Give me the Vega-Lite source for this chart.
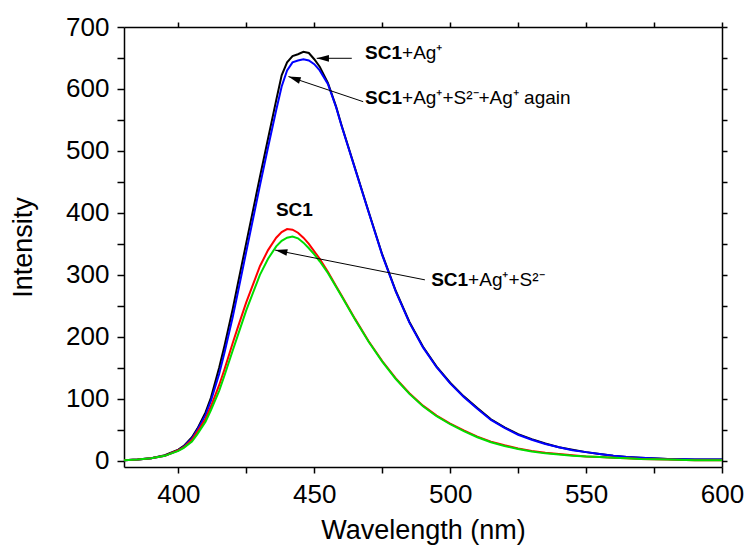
{
  "$schema": "https://vega.github.io/schema/vega-lite/v6.json",
  "width": 598,
  "height": 440,
  "autosize": {"type": "none"},
  "padding": {"left": 124, "top": 27, "right": 27, "bottom": 83},
  "background": "white",
  "config": {
    "view": {"stroke": null},
    "font": "Liberation Sans",
    "axis": {
      "domainColor": "black", "domainWidth": 1.5, "tickColor": "black", "tickWidth": 1.5,
      "labelColor": "black", "titleColor": "black", "labelFont": "Liberation Sans",
      "titleFont": "Liberation Sans", "labelFontSize": 26, "titleFontSize": 27,
      "titleFontWeight": "normal", "grid": false
    }
  },
  "datasets": {
    "spectra": [
      {"wl":380,"v":1,"s":"SC1+Ag+"},{"wl":385,"v":2,"s":"SC1+Ag+"},{"wl":390,"v":4,"s":"SC1+Ag+"},{"wl":395,"v":9,"s":"SC1+Ag+"},{"wl":400,"v":18,"s":"SC1+Ag+"},{"wl":405,"v":38,"s":"SC1+Ag+"},{"wl":410,"v":78,"s":"SC1+Ag+"},{"wl":415,"v":150,"s":"SC1+Ag+"},{"wl":420,"v":245,"s":"SC1+Ag+"},{"wl":425,"v":352,"s":"SC1+Ag+"},{"wl":430,"v":458,"s":"SC1+Ag+"},{"wl":433,"v":520,"s":"SC1+Ag+"},{"wl":436,"v":582,"s":"SC1+Ag+"},{"wl":438,"v":622,"s":"SC1+Ag+"},{"wl":440,"v":643,"s":"SC1+Ag+"},{"wl":442,"v":653,"s":"SC1+Ag+"},{"wl":444,"v":656,"s":"SC1+Ag+"},{"wl":446,"v":660,"s":"SC1+Ag+"},{"wl":448,"v":658,"s":"SC1+Ag+"},{"wl":450,"v":648,"s":"SC1+Ag+"},{"wl":452,"v":636,"s":"SC1+Ag+"},{"wl":455,"v":610,"s":"SC1+Ag+"},{"wl":458,"v":572,"s":"SC1+Ag+"},{"wl":460,"v":542,"s":"SC1+Ag+"},{"wl":465,"v":472,"s":"SC1+Ag+"},{"wl":470,"v":402,"s":"SC1+Ag+"},{"wl":475,"v":333,"s":"SC1+Ag+"},{"wl":480,"v":274,"s":"SC1+Ag+"},{"wl":485,"v":224,"s":"SC1+Ag+"},{"wl":490,"v":184,"s":"SC1+Ag+"},{"wl":495,"v":152,"s":"SC1+Ag+"},{"wl":500,"v":126,"s":"SC1+Ag+"},{"wl":505,"v":104,"s":"SC1+Ag+"},{"wl":510,"v":85,"s":"SC1+Ag+"},{"wl":515,"v":67,"s":"SC1+Ag+"},{"wl":520,"v":54,"s":"SC1+Ag+"},{"wl":525,"v":43,"s":"SC1+Ag+"},{"wl":530,"v":35,"s":"SC1+Ag+"},{"wl":535,"v":28,"s":"SC1+Ag+"},{"wl":540,"v":22,"s":"SC1+Ag+"},{"wl":545,"v":18,"s":"SC1+Ag+"},{"wl":550,"v":14,"s":"SC1+Ag+"},{"wl":555,"v":11,"s":"SC1+Ag+"},{"wl":560,"v":8,"s":"SC1+Ag+"},{"wl":565,"v":6,"s":"SC1+Ag+"},{"wl":570,"v":5,"s":"SC1+Ag+"},{"wl":580,"v":3,"s":"SC1+Ag+"},{"wl":590,"v":2,"s":"SC1+Ag+"},{"wl":600,"v":2,"s":"SC1+Ag+"},
      {"wl":402,"v":24,"s":"SC1+Ag+"},{"wl":407,"v":52,"s":"SC1+Ag+"},{"wl":412,"v":102,"s":"SC1+Ag+"},{"wl":417,"v":186,"s":"SC1+Ag+"},{"wl":422,"v":288,"s":"SC1+Ag+"},

      {"wl":380,"v":1,"s":"again"},{"wl":385,"v":2,"s":"again"},{"wl":390,"v":4,"s":"again"},{"wl":395,"v":8,"s":"again"},{"wl":400,"v":17,"s":"again"},{"wl":405,"v":36,"s":"again"},{"wl":410,"v":74,"s":"again"},{"wl":415,"v":140,"s":"again"},{"wl":420,"v":232,"s":"again"},{"wl":425,"v":338,"s":"again"},{"wl":430,"v":444,"s":"again"},{"wl":433,"v":506,"s":"again"},{"wl":436,"v":566,"s":"again"},{"wl":438,"v":604,"s":"again"},{"wl":440,"v":630,"s":"again"},{"wl":442,"v":643,"s":"again"},{"wl":444,"v":646,"s":"again"},{"wl":446,"v":648,"s":"again"},{"wl":448,"v":646,"s":"again"},{"wl":450,"v":640,"s":"again"},{"wl":452,"v":630,"s":"again"},{"wl":455,"v":608,"s":"again"},{"wl":458,"v":571,"s":"again"},{"wl":460,"v":541,"s":"again"},{"wl":465,"v":471,"s":"again"},{"wl":470,"v":401,"s":"again"},{"wl":475,"v":332,"s":"again"},{"wl":480,"v":273,"s":"again"},{"wl":485,"v":223,"s":"again"},{"wl":490,"v":183,"s":"again"},{"wl":495,"v":151,"s":"again"},{"wl":500,"v":125,"s":"again"},{"wl":505,"v":103,"s":"again"},{"wl":510,"v":84,"s":"again"},{"wl":515,"v":66,"s":"again"},{"wl":520,"v":53,"s":"again"},{"wl":525,"v":42,"s":"again"},{"wl":530,"v":34,"s":"again"},{"wl":535,"v":27,"s":"again"},{"wl":540,"v":22,"s":"again"},{"wl":545,"v":17,"s":"again"},{"wl":550,"v":14,"s":"again"},{"wl":555,"v":11,"s":"again"},{"wl":560,"v":8,"s":"again"},{"wl":565,"v":6,"s":"again"},{"wl":570,"v":5,"s":"again"},{"wl":580,"v":3,"s":"again"},{"wl":590,"v":2,"s":"again"},{"wl":600,"v":2,"s":"again"},
      {"wl":402,"v":23,"s":"again"},{"wl":407,"v":50,"s":"again"},{"wl":412,"v":97,"s":"again"},{"wl":417,"v":175,"s":"again"},{"wl":422,"v":274,"s":"again"},

      {"wl":380,"v":1,"s":"SC1"},{"wl":385,"v":2,"s":"SC1"},{"wl":390,"v":4,"s":"SC1"},{"wl":395,"v":8,"s":"SC1"},{"wl":400,"v":17,"s":"SC1"},{"wl":405,"v":34,"s":"SC1"},{"wl":410,"v":68,"s":"SC1"},{"wl":415,"v":122,"s":"SC1"},{"wl":420,"v":190,"s":"SC1"},{"wl":425,"v":256,"s":"SC1"},{"wl":430,"v":314,"s":"SC1"},{"wl":433,"v":340,"s":"SC1"},{"wl":436,"v":360,"s":"SC1"},{"wl":438,"v":369,"s":"SC1"},{"wl":440,"v":374,"s":"SC1"},{"wl":442,"v":373,"s":"SC1"},{"wl":444,"v":368,"s":"SC1"},{"wl":446,"v":360,"s":"SC1"},{"wl":448,"v":350,"s":"SC1"},{"wl":450,"v":338,"s":"SC1"},{"wl":452,"v":326,"s":"SC1"},{"wl":455,"v":305,"s":"SC1"},{"wl":458,"v":282,"s":"SC1"},{"wl":460,"v":267,"s":"SC1"},{"wl":465,"v":229,"s":"SC1"},{"wl":470,"v":193,"s":"SC1"},{"wl":475,"v":161,"s":"SC1"},{"wl":480,"v":133,"s":"SC1"},{"wl":485,"v":109,"s":"SC1"},{"wl":490,"v":89,"s":"SC1"},{"wl":495,"v":73,"s":"SC1"},{"wl":500,"v":60,"s":"SC1"},{"wl":505,"v":49,"s":"SC1"},{"wl":510,"v":39,"s":"SC1"},{"wl":515,"v":31,"s":"SC1"},{"wl":520,"v":25,"s":"SC1"},{"wl":525,"v":20,"s":"SC1"},{"wl":530,"v":16,"s":"SC1"},{"wl":535,"v":13,"s":"SC1"},{"wl":540,"v":11,"s":"SC1"},{"wl":545,"v":9,"s":"SC1"},{"wl":550,"v":7,"s":"SC1"},{"wl":555,"v":6,"s":"SC1"},{"wl":560,"v":5,"s":"SC1"},{"wl":565,"v":4,"s":"SC1"},{"wl":570,"v":3,"s":"SC1"},{"wl":580,"v":2,"s":"SC1"},{"wl":590,"v":1,"s":"SC1"},{"wl":600,"v":1,"s":"SC1"},
      {"wl":402,"v":22,"s":"SC1"},{"wl":407,"v":47,"s":"SC1"},{"wl":412,"v":88,"s":"SC1"},{"wl":417,"v":148,"s":"SC1"},{"wl":422,"v":217,"s":"SC1"},

      {"wl":380,"v":1,"s":"S2"},{"wl":385,"v":2,"s":"S2"},{"wl":390,"v":4,"s":"S2"},{"wl":395,"v":8,"s":"S2"},{"wl":400,"v":16,"s":"S2"},{"wl":405,"v":31,"s":"S2"},{"wl":410,"v":63,"s":"S2"},{"wl":415,"v":113,"s":"S2"},{"wl":420,"v":178,"s":"S2"},{"wl":425,"v":243,"s":"S2"},{"wl":430,"v":300,"s":"S2"},{"wl":433,"v":326,"s":"S2"},{"wl":436,"v":346,"s":"S2"},{"wl":438,"v":355,"s":"S2"},{"wl":440,"v":360,"s":"S2"},{"wl":442,"v":362,"s":"S2"},{"wl":444,"v":359,"s":"S2"},{"wl":446,"v":352,"s":"S2"},{"wl":448,"v":343,"s":"S2"},{"wl":450,"v":333,"s":"S2"},{"wl":452,"v":322,"s":"S2"},{"wl":455,"v":303,"s":"S2"},{"wl":458,"v":281,"s":"S2"},{"wl":460,"v":266,"s":"S2"},{"wl":465,"v":228,"s":"S2"},{"wl":470,"v":192,"s":"S2"},{"wl":475,"v":160,"s":"S2"},{"wl":480,"v":132,"s":"S2"},{"wl":485,"v":108,"s":"S2"},{"wl":490,"v":88,"s":"S2"},{"wl":495,"v":72,"s":"S2"},{"wl":500,"v":59,"s":"S2"},{"wl":505,"v":48,"s":"S2"},{"wl":510,"v":38,"s":"S2"},{"wl":515,"v":30,"s":"S2"},{"wl":520,"v":24,"s":"S2"},{"wl":525,"v":19,"s":"S2"},{"wl":530,"v":15,"s":"S2"},{"wl":535,"v":12,"s":"S2"},{"wl":540,"v":10,"s":"S2"},{"wl":545,"v":8,"s":"S2"},{"wl":550,"v":7,"s":"S2"},{"wl":555,"v":6,"s":"S2"},{"wl":560,"v":5,"s":"S2"},{"wl":565,"v":4,"s":"S2"},{"wl":570,"v":3,"s":"S2"},{"wl":580,"v":2,"s":"S2"},{"wl":590,"v":1,"s":"S2"},{"wl":600,"v":1,"s":"S2"},
      {"wl":402,"v":21,"s":"S2"},{"wl":407,"v":43,"s":"S2"},{"wl":412,"v":82,"s":"S2"},{"wl":417,"v":138,"s":"S2"},{"wl":422,"v":204,"s":"S2"}
    ],
    "labels": [
      {"x": 482.3, "y": 658, "bold": "SC1", "rest": "+Ag⁺"},
      {"x": 482.3, "y": 585, "bold": "SC1", "rest": "+Ag⁺+S²⁻+Ag⁺ again"},
      {"x": 449.5, "y": 405, "bold": "SC1", "rest": ""},
      {"x": 506.6, "y": 292, "bold": "SC1", "rest": "+Ag⁺+S²⁻"}
    ],
    "arrows": [
      {"id": 1, "x": 463.8, "y": 649.5, "x2": 450.9, "y2": 649.5},
      {"id": 2, "x": 468, "y": 579.5, "x2": 440.5, "y2": 620},
      {"id": 3, "x": 490.7, "y": 292, "x2": 435.6, "y2": 340}
    ]
  },
  "layer": [
    {
      "data": {"name": "spectra"},
      "mark": {"type": "line", "strokeWidth": 2},
      "encoding": {
        "x": {"field": "wl", "type": "quantitative",
              "scale": {"domain": [380, 600], "nice": false, "zero": false},
              "axis": {"orient": "bottom", "title": "Wavelength (nm)", "values": [400,425,450,475,500,525,550,575,600],
                       "labelExpr": "datum.value % 50 === 0 ? datum.label : ''", "tickSize": 6, "labelPadding": 8,
                       "titlePadding": 10, "labelFlush": false, "labelOverlap": false, "labelBound": false}},
        "y": {"field": "v", "type": "quantitative",
              "scale": {"domain": [-10, 700], "nice": false, "zero": false},
              "axis": {"orient": "left", "title": "Intensity", "values": [0,50,100,150,200,250,300,350,400,450,500,550,600,650,700],
                       "labelExpr": "datum.value % 100 === 0 ? datum.label : ''", "tickSize": 7, "labelPadding": 8,
                       "titlePadding": 28, "labelOverlap": false, "labelBound": false}},
        "color": {"field": "s", "type": "nominal", "legend": null,
                  "scale": {"domain": ["SC1+Ag+", "again", "SC1", "S2"], "range": ["#000000", "#0000ff", "#ff0000", "#00dd00"]}}
      }
    },
    {
      "data": {"name": "arrows"},
      "mark": {"type": "rule", "color": "black", "strokeWidth": 1},
      "encoding": {
        "x": {"field": "x", "type": "quantitative",
              "axis": {"orient": "top", "title": null, "labels": false, "values": [400,425,450,475,500,525,550,575,600], "tickSize": 5}},
        "y": {"field": "y", "type": "quantitative",
              "axis": {"orient": "right", "title": null, "labels": false, "values": [0,50,100,150,200,250,300,350,400,450,500,550,600,650,700], "tickSize": 5}},
        "x2": {"field": "x2"},
        "y2": {"field": "y2"}
      }
    },
    {
      "data": {"name": "arrows"},
      "transform": [{"filter": "datum.id === 1"}],
      "mark": {"type": "point", "shape": "M0,0L2,-0.55L2,0.55Z", "filled": true, "color": "black", "size": 150, "opacity": 1, "angle": 0},
      "encoding": {"x": {"field": "x2", "type": "quantitative", "axis": null}, "y": {"field": "y2", "type": "quantitative", "axis": null}}
    },
    {
      "data": {"name": "arrows"},
      "transform": [{"filter": "datum.id === 2"}],
      "mark": {"type": "point", "shape": "M0,0L2,-0.55L2,0.55Z", "filled": true, "color": "black", "size": 150, "opacity": 1, "angle": 18.5},
      "encoding": {"x": {"field": "x2", "type": "quantitative", "axis": null}, "y": {"field": "y2", "type": "quantitative", "axis": null}}
    },
    {
      "data": {"name": "arrows"},
      "transform": [{"filter": "datum.id === 3"}],
      "mark": {"type": "point", "shape": "M0,0L2,-0.55L2,0.55Z", "filled": true, "color": "black", "size": 150, "opacity": 1, "angle": 11.3},
      "encoding": {"x": {"field": "x2", "type": "quantitative", "axis": null}, "y": {"field": "y2", "type": "quantitative", "axis": null}}
    },
    {
      "data": {"name": "labels"},
      "mark": {"type": "text", "align": "right", "baseline": "middle", "fontWeight": "bold", "fontSize": 19, "font": "Liberation Sans", "color": "black"},
      "encoding": {"x": {"field": "x", "type": "quantitative", "axis": null}, "y": {"field": "y", "type": "quantitative", "axis": null}, "text": {"field": "bold"}}
    },
    {
      "data": {"name": "labels"},
      "mark": {"type": "text", "align": "left", "baseline": "middle", "fontSize": 19, "font": "Liberation Sans", "color": "black"},
      "encoding": {"x": {"field": "x", "type": "quantitative", "axis": null}, "y": {"field": "y", "type": "quantitative", "axis": null}, "text": {"field": "rest"}}
    }
  ]
}
